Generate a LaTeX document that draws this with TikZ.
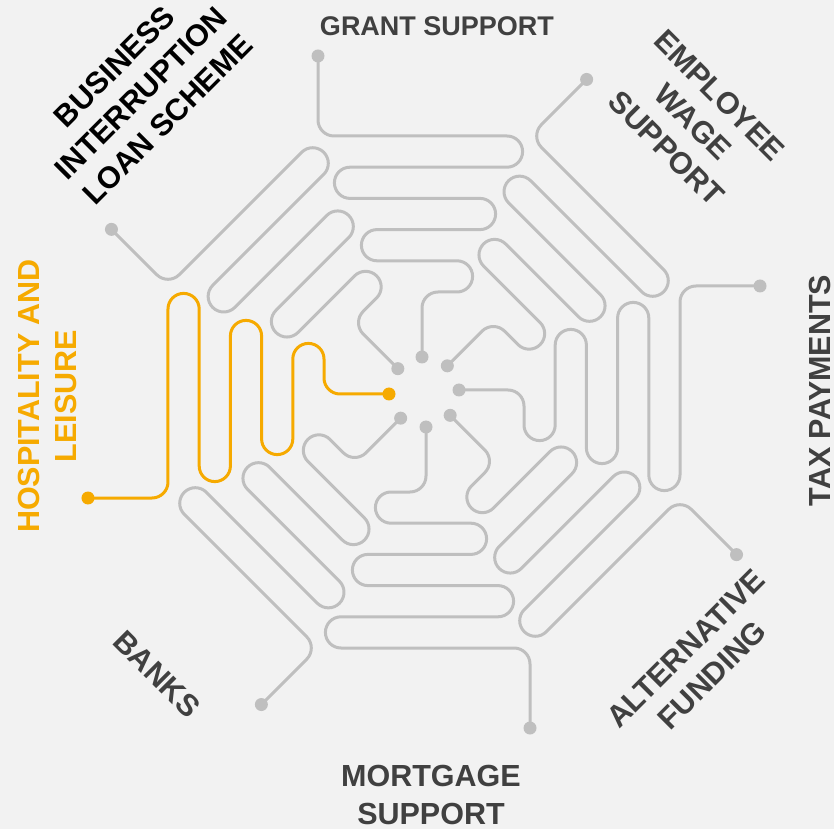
\documentclass[tikz,border=0pt]{standalone}
\usepackage{fontspec}
\setmainfont{Liberation Sans}
\definecolor{bg}{HTML}{F2F2F2}
\definecolor{maze}{HTML}{BFBFBF}
\definecolor{hosp}{RGB}{246,170,0}
\definecolor{lbl}{HTML}{404040}
\tikzset{
  mazeline/.style={line width=3pt, line cap=round, line join=round},
  lab/.style={font=\bfseries\fontsize{30.5}{37.5}\selectfont, align=center, text=lbl, inner sep=0pt},
}
\newcommand\mazeroute[2]{%
  \begin{scope}[rotate=#1]
    \draw[mazeline, #2] (-35,-2) -- (-84,-2)
      arc[start angle=270, end angle=180, radius=16pt] -- (-100,33)
      arc[start angle=0, end angle=180, radius=15.6pt] -- (-131.2,-47)
      arc[start angle=0, end angle=-180, radius=15.6pt] -- (-162.4,56)
      arc[start angle=0, end angle=180, radius=15.6pt] -- (-193.6,-74)
      arc[start angle=0, end angle=-180, radius=15.6pt] -- (-224.8,83)
      arc[start angle=0, end angle=180, radius=15.6pt] -- (-256,-90)
      arc[start angle=0, end angle=-90, radius=16pt] -- (-336,-106);
    \fill[#2] (-35,-2) circle[radius=6.5pt];
    \fill[#2] (-336,-106) circle[radius=6.5pt];
  \end{scope}}
\begin{document}
\begin{tikzpicture}[x=1pt,y=1pt]
  \fill[bg] (-424,-437) rectangle (410,392);
  \useasboundingbox (-424,-437) rectangle (410,392);
  \mazeroute{-45}{maze}
  \mazeroute{-90}{maze}
  \mazeroute{-135}{maze}
  \mazeroute{-180}{maze}
  \mazeroute{-225}{maze}
  \mazeroute{-270}{maze}
  \mazeroute{-315}{maze}
  \mazeroute{0}{hosp}
  \node[lab, font=\bfseries\fontsize{27}{33}\selectfont] (grant) at (13,366) {GRANT SUPPORT};
  \node[lab, rotate=-45] (employee) at (269,270) {EMPLOYEE\\WAGE\\SUPPORT};
  \node[lab, rotate=90] (tax) at (395.5,1.5) {TAX PAYMENTS};
  \node[lab, rotate=45] (alternative) at (275,-270) {ALTERNATIVE\\FUNDING};
  \node[lab] (mortgage) at (7,-403) {MORTGAGE\\SUPPORT};
  \node[lab, rotate=-45] (banks) at (-267,-282) {BANKS};
  \node[lab, rotate=90, text=hosp] (hospitality) at (-376.5,-4) {HOSPITALITY AND\\LEISURE};
  \node[lab, rotate=45, text=black] (business) at (-283,299) {BUSINESS\\INTERRUPTION\\LOAN SCHEME};
\end{tikzpicture}
\end{document}
